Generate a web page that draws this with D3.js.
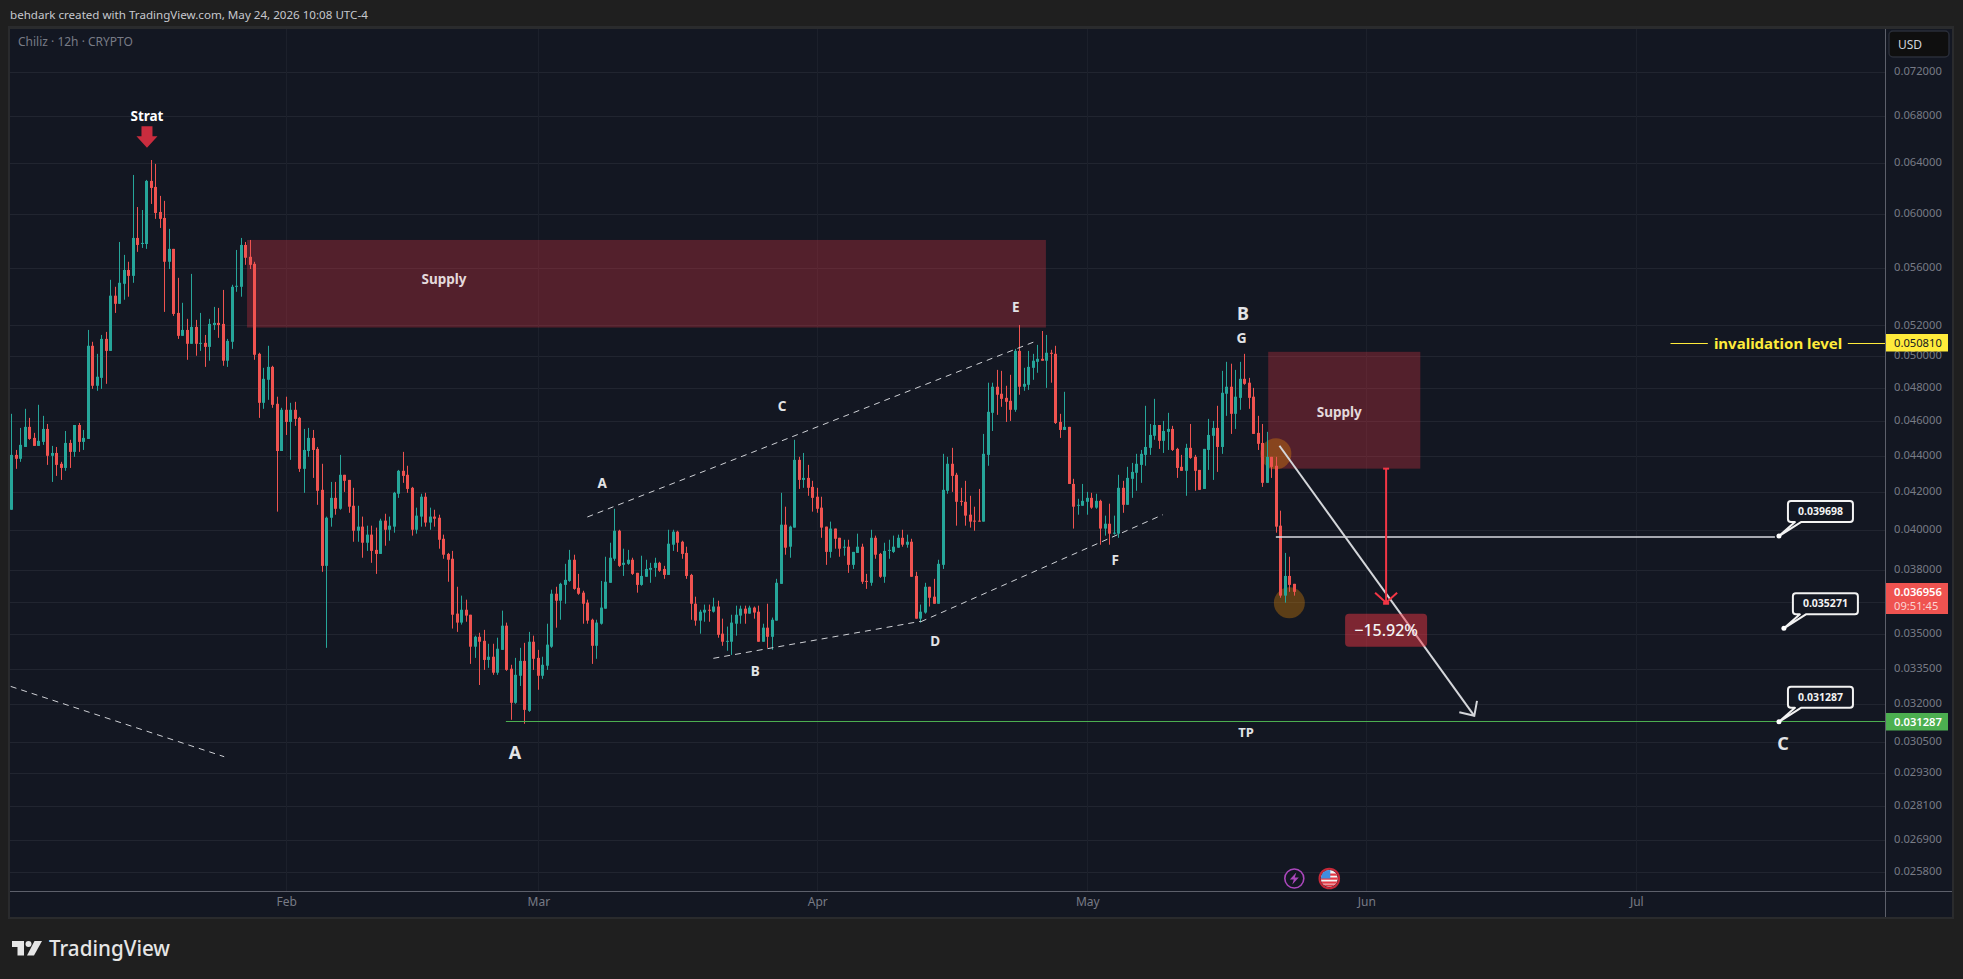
<!DOCTYPE html>
<html><head><meta charset="utf-8">
<script src="https://cdn.jsdelivr.net/npm/d3@7/dist/d3.min.js"></script>
<style>html,body{margin:0;padding:0;background:#1f1f1f;overflow:hidden}svg{display:block}text{font-family:"Noto Sans",sans-serif}</style>
</head><body><svg id="c" width="1963" height="979"></svg>
<script>
// Prices of the 12h candles, in units of 0.00001 USD
const opens=[4106,4405,4383,4450,4566,4502,4456,4479,4554,4400,
4416,4355,4332,4473,4422,4577,4479,4496,5066,4813,
4862,5111,5033,5402,5346,5485,5583,5541,5817,5772,
5772,6258,6210,6014,5968,5642,5736,5284,5131,5170,
5079,5190,5079,5085,5059,5203,5217,5210,4970,5092,
5464,5464,5765,5678,5627,5014,4709,4850,4931,4703,
4427,4667,4595,4667,4619,4327,4427,4502,4439,4212,
3821,4064,4169,4111,4294,4266,4127,3997,4018,3936,
3977,3900,3880,4049,4002,4018,4191,4316,4294,4223,
4002,4070,4175,4039,4070,4064,3956,3880,3856,3594,
3553,3612,3589,3445,3489,3471,3387,3401,3332,3431,
3539,3349,3206,3319,3383,3173,3467,3396,3319,3362,
3445,3687,3654,3729,3748,3851,3715,3692,3645,3566,
3449,3548,3617,3739,3856,3997,3826,3831,3851,3787,
3729,3768,3802,3811,3836,3806,3777,3926,3992,3941,
3885,3777,3640,3562,3599,3612,3603,3627,3503,3467,
3467,3548,3585,3617,3594,3622,3603,3467,3530,3489,
3562,3734,4028,3916,4013,4377,4266,4277,4228,4175,
4117,4018,3890,4008,3961,3911,3916,3826,3885,3916,
3748,3739,3961,3880,3768,3895,3890,3911,3961,3926,
3941,3772,3571,3599,3720,3673,3640,3826,4207,4355,
4294,4153,4148,4080,4049,4049,4044,4405,4649,4807,
4764,4739,4721,4667,5033,4807,4819,4925,4963,4982,
4970,5021,5014,4595,4548,4566,4244,4127,4127,4148,
4169,4117,4153,4008,4033,3982,3982,4223,4132,4272,
4305,4349,4405,4445,4514,4577,4485,4537,4554,4439,
4338,4316,4445,4394,4321,4217,4433,4514,4560,4450,
4764,4807,4643,4739,4856,4832,4746,4531,4473,4250,
4394,4344,4023,3678,3772,3734];
const highs=[4643,4433,4560,4673,4619,4531,4697,4631,4583,4456,
4450,4366,4542,4491,4577,4589,4548,5170,5092,5014,
5137,5157,5513,5464,5787,5692,5642,6306,6052,6029,
6266,6428,6396,6139,6100,5885,5736,5527,5353,5244,
5555,5237,5284,5137,5244,5325,5318,5442,5111,5478,
5728,5817,5787,5802,5642,5021,4925,5066,4938,4746,
4679,4746,4709,4715,4625,4554,4560,4548,4450,4355,
4070,4255,4255,4405,4294,4266,4223,4127,4070,4023,
4023,4013,4059,4085,4070,4201,4321,4422,4344,4228,
4117,4191,4196,4117,4106,4080,3977,3885,3895,3720,
3678,3659,3589,3494,3507,3520,3458,3458,3485,3608,
3553,3366,3396,3440,3462,3511,3494,3431,3401,3548,
3706,3720,3739,3831,3900,3876,3782,3701,3659,3571,
3566,3748,3866,3936,4111,4002,3906,3900,3861,3787,
3871,3851,3836,3861,3841,3821,4002,4002,3997,3946,
3916,3782,3673,3612,3636,3636,3668,3654,3571,3535,
3589,3631,3631,3631,3631,3627,3631,3548,3640,3576,
3758,4196,4122,4023,4491,4394,4416,4349,4261,4223,
4175,4018,4044,4008,3961,3951,3951,3890,3982,3931,
3782,4002,3972,3885,3936,3951,3972,3977,4002,3977,
3956,3792,3636,3739,3720,3758,3851,4411,4394,4445,
4305,4223,4261,4180,4122,4217,4525,4832,4832,4912,
4906,4813,4881,5046,5203,4925,5033,5014,5072,5163,
5137,5040,5066,4643,4776,4566,4272,4164,4244,4201,
4196,4191,4159,4075,4138,4075,4294,4261,4338,4360,
4411,4433,4691,4583,4733,4577,4601,4649,4572,4445,
4405,4468,4583,4405,4321,4439,4613,4601,4691,4906,
4963,4951,4912,4963,5014,4862,4800,4631,4583,4537,
4394,4394,4101,3885,3866,3734];
const lows=[4106,4327,4366,4450,4491,4456,4456,4462,4349,4255,
4288,4266,4316,4332,4394,4422,4433,4496,4794,4782,
4794,4825,5033,5284,5346,5374,5395,5492,5714,5743,
5736,6076,5961,5892,5291,5590,5264,5111,5131,4976,
5079,5002,5033,4931,4970,5170,5118,4938,4931,5046,
5429,5395,5620,5590,4976,4619,4673,4727,4679,4096,
4427,4519,4377,4572,4310,4196,4394,4277,4132,3792,
3440,4018,4080,4106,4201,4090,3941,3941,3861,3895,
3836,3782,3880,3921,3946,3987,4169,4250,4196,3972,
3982,4018,4018,4002,4018,3906,3856,3744,3526,3511,
3544,3557,3370,3396,3280,3344,3353,3323,3323,3431,
3340,3137,3202,3276,3121,3169,3344,3260,3306,3344,
3440,3530,3566,3640,3744,3706,3682,3548,3548,3370,
3392,3544,3617,3739,3846,3816,3772,3826,3777,3692,
3725,3768,3739,3768,3792,3758,3777,3895,3890,3856,
3758,3566,3539,3503,3557,3557,3599,3485,3449,3427,
3409,3494,3548,3548,3594,3571,3467,3467,3440,3431,
3562,3734,3876,3861,4013,4217,4223,4180,4096,4090,
3961,3826,3861,3906,3866,3871,3787,3806,3885,3734,
3710,3725,3856,3763,3739,3856,3885,3911,3916,3911,
3768,3571,3553,3594,3627,3640,3640,3806,4191,4201,
4023,4127,4023,4013,3997,4044,4044,4344,4542,4637,
4685,4595,4601,4655,4758,4782,4788,4850,4894,4970,
4800,4832,4583,4502,4548,4244,4008,4080,4127,4080,
4111,4111,3926,3972,3926,3977,3961,4090,4132,4169,
4207,4250,4344,4405,4491,4439,4416,4433,4427,4277,
4316,4180,4383,4207,4212,4217,4321,4266,4310,4411,
4631,4525,4554,4667,4819,4673,4525,4433,4228,4250,
4277,3987,3668,3645,3696,3678];
const closes=[4405,4383,4462,4566,4496,4456,4485,4554,4400,4416,
4349,4332,4473,4422,4577,4479,4502,5066,4813,4869,
5111,5033,5402,5346,5492,5583,5541,5817,5765,5780,
6258,6202,6006,5961,5642,5736,5277,5131,5170,5079,
5190,5079,5085,5059,5210,5217,5203,4970,5098,5464,
5471,5765,5671,5620,5008,4709,4856,4931,4697,4427,
4667,4595,4667,4613,4327,4433,4502,4433,4207,3821,
4064,4169,4111,4294,4261,4122,3997,4018,3936,3977,
3895,3880,4049,4002,4023,4196,4316,4288,4217,4002,
4075,4175,4039,4070,4059,3951,3876,3851,3589,3553,
3612,3585,3445,3489,3467,3387,3401,3332,3436,3539,
3344,3206,3323,3383,3177,3467,3392,3319,3366,3454,
3687,3654,3734,3753,3851,3710,3687,3640,3562,3449,
3553,3622,3744,3861,3997,3821,3836,3851,3782,3729,
3772,3806,3811,3836,3797,3777,3931,3992,3936,3880,
3772,3640,3562,3603,3612,3608,3627,3498,3467,3471,
3553,3589,3617,3594,3622,3599,3467,3530,3489,3566,
3739,4028,3911,4018,4377,4266,4277,4223,4169,4111,
4013,3890,4008,3956,3906,3916,3826,3890,3916,3744,
3744,3961,3876,3768,3895,3900,3916,3961,3926,3941,
3768,3571,3603,3720,3668,3640,3831,4212,4355,4288,
4148,4148,4075,4044,4044,4044,4411,4655,4807,4758,
4733,4715,4667,5033,4807,4825,4931,4970,4982,4970,
5021,5014,4589,4548,4566,4244,4122,4132,4153,4169,
4117,4153,4008,4033,3982,3987,4223,4132,4277,4310,
4355,4411,4450,4519,4577,4485,4542,4554,4433,4332,
4316,4445,4388,4316,4212,4439,4519,4560,4450,4770,
4807,4643,4746,4856,4825,4739,4525,4468,4250,4394,
4338,4018,3678,3772,3729,3696];

const gridPrices=[0.072,0.068,0.064,0.06,0.056,0.052,0.05,0.048,0.046,0.044,0.042,0.04,0.038,0.0365,0.035,0.0335,0.032,0.0305,0.0293,0.0281,0.0269,0.0258];
const hiddenTick=0.0365; // its label sits behind the last-price tag
const invalidationPrice=0.05081, lastPrice=0.036956, targetPrice=0.031287, midPrice=0.039698, notePrice=0.035271;
const countdown="09:51:45", changeLabel="\u221215.92%";
// Drawings: position = candle number b, price p (0.00001 USD)
const supplyZones=[{b0:52.27,b1:229.8,hi:5802,lo:5186,labelB:96.04,labelP:5520},{b0:279.2,b1:313,hi:5027,lo:4328,labelB:295,labelP:4655}];
const dashedLines=[[-0.24,3274,47.2,2992],[127.9,4068,227.4,5094],[155.9,3394,202,3559],[202,3557,255.8,4080]];
const circles=[{b:280.9,p:4411},{b:283.9,p:3644}];
const arrowLine=[281.7,4457,325,3153];
const measure={b:305.4,from:4328,to:3640};
const letters=[["A",131.2,4250,13.5],["C",171.2,4691,13.5],["B",165.2,3340,13.5],["D",205.2,3471,13.5],["E",223.1,5320,13.5],["F",245.2,3847,13.5],["G",273.3,5116,14],["B",273.6,5277,18],["A",111.8,3008,18],["C",393.6,3042,18],["TP",274.3,3087,13]];
const notes=[{b:392.7,price:midPrice},{b:393.8,price:notePrice},{b:392.7,price:targetPrice}];
const stratMark={b:30.04,tip:6530,label:"Strat",labelP:6800};

const fmt6=d3.format(".6f");
const svg=d3.select("#c");
const L=10,T=29,R=1886,B=891,BOTTOM=917;
const BG="#131722",UP="#26a69a",DOWN="#ef5350",GRID="#212530",AXT="#787b86";
const y=d3.scaleLog().domain([0.0258,0.072]).range([872.3,71.5]);
const py=u=>y(u*1e-5);
const feb1=Date.UTC(2026,1,1),jul1=Date.UTC(2026,6,1),H12=12*3600e3;
const x=d3.scaleUtc().domain([feb1,jul1]).range([286.3,1636.3]);
const xb=b=>x(new Date(feb1+(b-61)*H12));
const months=d3.utcMonth.range(new Date(feb1),new Date(jul1+1));

svg.append("rect").attr("x",8).attr("y",26).attr("width",1946).attr("height",893).attr("fill","#2a2b2d");
svg.append("rect").attr("x",L).attr("y",T).attr("width",1952-L).attr("height",BOTTOM-T).attr("fill",BG);
svg.append("text").attr("x",10).attr("y",19).attr("font-size",11.6).attr("fill","#c6c8ce").text("behdark created with TradingView.com, May 24, 2026 10:08 UTC-4");

const plot=svg.append("g");
plot.selectAll("line.h").data(gridPrices).join("line").attr("x1",L).attr("x2",R).attr("y1",d=>Math.round(y(d))+.5).attr("y2",d=>Math.round(y(d))+.5).attr("stroke",GRID);
plot.selectAll("line.v").data(months).join("line").attr("x1",d=>Math.round(x(d))+.5).attr("x2",d=>Math.round(x(d))+.5).attr("y1",T).attr("y2",B).attr("stroke","#1c202b");
svg.append("text").attr("x",18).attr("y",46).attr("font-size",12).attr("fill",AXT).text("Chiliz \u00b7 12h \u00b7 CRYPTO");

// supply zones
plot.selectAll("rect.z").data(supplyZones).join("rect").attr("x",d=>xb(d.b0)).attr("width",d=>xb(d.b1)-xb(d.b0)).attr("y",d=>py(d.hi)).attr("height",d=>py(d.lo)-py(d.hi)).attr("fill","#f23645").attr("fill-opacity",.29);
// circles
plot.selectAll("circle.m").data(circles).join("circle").attr("cx",d=>xb(d.b)).attr("cy",d=>py(d.p)).attr("r",15.5).attr("fill","#ff9800").attr("fill-opacity",.31);

// candles
const bars=d3.range(opens.length);
const cg=svg.append("g");
cg.selectAll("rect.w").data(bars).join("rect").attr("x",i=>Math.round(xb(i)-.5)).attr("width",1)
 .attr("y",i=>py(highs[i])).attr("height",i=>Math.max(1,py(lows[i])-py(highs[i])))
 .attr("fill",i=>closes[i]>=opens[i]?UP:DOWN);
cg.selectAll("rect.b").data(bars).join("rect").attr("x",i=>Math.round(xb(i)-.5)-1).attr("width",3)
 .attr("y",i=>py(Math.max(opens[i],closes[i]))).attr("height",i=>Math.max(1,Math.abs(py(opens[i])-py(closes[i]))))
 .attr("fill",i=>closes[i]>=opens[i]?UP:DOWN);

// dashed lines
svg.selectAll("line.d").data(dashedLines).join("line").attr("x1",d=>xb(d[0])).attr("y1",d=>py(d[1])).attr("x2",d=>xb(d[2])).attr("y2",d=>py(d[3])).attr("stroke","#cfd1d6").attr("stroke-width",1).attr("stroke-dasharray","6 5");

// horizontal levels
const yT=Math.round(y(targetPrice))-.5;
svg.append("line").attr("x1",xb(109.8)).attr("x2",R).attr("y1",yT).attr("y2",yT).attr("stroke","#4caf50");
const yM=Math.round(y(midPrice))+1;
svg.append("line").attr("x1",xb(280.9)).attr("x2",xb(391.8)).attr("y1",yM).attr("y2",yM).attr("stroke","#d8dae0").attr("stroke-width",1.4);
const yI=Math.round(y(invalidationPrice))+.5;
svg.append("line").attr("x1",xb(368.6)).attr("x2",xb(376.9)).attr("y1",yI).attr("y2",yI).attr("stroke","#ffeb3b");
svg.append("line").attr("x1",xb(408)).attr("x2",R).attr("y1",yI).attr("y2",yI).attr("stroke","#ffeb3b");
svg.append("text").attr("x",xb(392.5)).attr("y",yI+5).attr("text-anchor","middle").attr("font-size",15).attr("font-weight",700).attr("fill","#ffeb3b").text("invalidation level");

// white projection arrow
const [a0,a1,a2,a3]=[xb(arrowLine[0]),py(arrowLine[1]),xb(arrowLine[2]),py(arrowLine[3])];
svg.append("line").attr("x1",a0).attr("y1",a1).attr("x2",a2).attr("y2",a3).attr("stroke","#d4d6da").attr("stroke-width",2);
svg.append("path").attr("d",`M${a2-15},${a3-3.5}L${a2},${a3}L${a2+2.7},${a3-15}`).attr("fill","none").attr("stroke","#d4d6da").attr("stroke-width",2);

// price-range measure
const mx=xb(measure.b),m0=py(measure.from),m1=py(measure.to);
const mc="#f23645";
svg.append("line").attr("x1",mx).attr("x2",mx).attr("y1",m0).attr("y2",m1).attr("stroke",mc).attr("stroke-width",2);
svg.append("line").attr("x1",mx-3).attr("x2",mx+3).attr("y1",m0).attr("y2",m0).attr("stroke",mc).attr("stroke-width",2);
svg.append("line").attr("x1",mx-3).attr("x2",mx+3).attr("y1",m1-.5).attr("y2",m1-.5).attr("stroke",mc).attr("stroke-width",3);
svg.append("path").attr("d",`M${mx-11},${m1-11}L${mx},${m1-1}L${mx+11},${m1-11}`).attr("fill","none").attr("stroke",mc).attr("stroke-width",2);
svg.append("rect").attr("x",mx-41).attr("y",m1+10).attr("width",82).attr("height",33).attr("rx",4).attr("fill",mc).attr("fill-opacity",.48);
svg.append("text").attr("x",mx).attr("y",m1+32).attr("text-anchor","middle").attr("font-size",16).attr("font-weight",500).attr("fill","#f4f4f4").text(changeLabel);

// text labels
svg.selectAll("text.s").data(supplyZones).join("text").attr("x",d=>xb(d.labelB)).attr("y",d=>py(d.labelP)).attr("dy",".35em").attr("text-anchor","middle").attr("font-size",13.5).attr("font-weight",700).attr("fill","#e4d9db").text("Supply");
svg.selectAll("text.l").data(letters).join("text").attr("x",d=>xb(d[1])).attr("y",d=>py(d[2])).attr("dy",".35em").attr("text-anchor","middle").attr("font-size",d=>d[3]).attr("font-weight",700).attr("fill","#e2e3e6").text(d=>d[0]);

// strat marker
const sx=xb(stratMark.b),sy=py(stratMark.tip);
svg.append("text").attr("x",sx).attr("y",py(stratMark.labelP)).attr("dy",".35em").attr("text-anchor","middle").attr("font-size",13.5).attr("font-weight",700).attr("fill","#fff").text(stratMark.label);
svg.append("path").attr("d",`M${sx},${sy}L${sx-10.5},${sy-11.5}H${sx-5.5}V${sy-21.5}H${sx+5.5}V${sy-11.5}H${sx+10.5}Z`).attr("fill","#c92c3e");

// callout notes
const note=svg.selectAll("g.n").data(notes).join("g").attr("transform",d=>`translate(${xb(d.b)},${y(d.price)})`);
note.append("path").attr("d","M12,-35H71Q74,-35 74,-32V-17Q74,-14 71,-14H22L0,0L16,-14H12Q9,-14 9,-17V-32Q9,-35 12,-35Z").attr("fill",BG).attr("stroke","#f2f2f2").attr("stroke-width",2).attr("stroke-linejoin","round");
note.append("circle").attr("r",2.5).attr("fill","#fff");
note.append("text").attr("x",41.5).attr("y",-21).attr("text-anchor","middle").attr("font-size",10.5).attr("font-weight",700).attr("fill","#f2f2f2").text(d=>fmt6(d.price));

// axes
const axR=svg.append("g").attr("transform",`translate(${R},-1)`).call(d3.axisRight(y).tickValues(gridPrices.filter(p=>p!==hiddenTick)).tickFormat(fmt6).tickSize(0).tickPadding(8));
axR.select(".domain").remove();
axR.selectAll("text").attr("font-size",11.2).attr("fill",AXT).style("font-family",'"Noto Sans",sans-serif');
const axB=svg.append("g").attr("transform",`translate(0,${B})`).call(d3.axisBottom(x).tickValues(months).tickFormat(d3.utcFormat("%b")).tickSize(0).tickPadding(6));
axB.select(".domain").remove();
axB.selectAll("text").attr("font-size",12).attr("fill",AXT).style("font-family",'"Noto Sans",sans-serif');
svg.append("line").attr("x1",L).attr("x2",1952).attr("y1",B+.5).attr("y2",B+.5).attr("stroke","#5d606b");
svg.append("line").attr("x1",R-.5).attr("x2",R-.5).attr("y1",T).attr("y2",BOTTOM).attr("stroke","#5d606b");

// price tags
function tag(price,fill,txt,w){svg.append("rect").attr("x",R).attr("y",Math.round(y(price))-9).attr("width",62).attr("height",17.5).attr("fill",fill);
 svg.append("text").attr("x",R+8).attr("y",Math.round(y(price))+4).attr("font-size",11.2).attr("font-weight",w).attr("fill",txt).text(fmt6(price));}
tag(invalidationPrice,"#ffeb3b","#131722",400);
tag(targetPrice,"#4caf50","#fff",600);
const yL=Math.round(y(lastPrice));
svg.append("rect").attr("x",R).attr("y",yL-9).attr("width",62).attr("height",31).attr("fill",DOWN);
svg.append("text").attr("x",R+8).attr("y",yL+4).attr("font-size",11.2).attr("font-weight",600).attr("fill","#fff").text(fmt6(lastPrice));
svg.append("text").attr("x",R+8).attr("y",yL+18).attr("font-size",11.2).attr("fill","#fbd5d4").text(countdown);

// USD button
svg.append("rect").attr("x",1889).attr("y",31).attr("width",60).attr("height",26).attr("rx",4).attr("fill","#0f0f0f").attr("stroke","#2a2e39").attr("stroke-width",1.4);
svg.append("text").attr("x",1898).attr("y",49).attr("font-size",12).attr("fill","#d1d4dc").text("USD");

// event icons
const ev=svg.append("g").attr("transform","translate(1294.3,878.5)");
ev.append("circle").attr("r",9.5).attr("fill",BG).attr("stroke","#ab47bc").attr("stroke-width",1.6);
ev.append("path").attr("d","M2,-6L-4.5,1H-0.5L-2,6L4.5,-1H0.5Z").attr("fill","#ab47bc");
const fl=svg.append("g").attr("transform","translate(1329.3,878.5)");
svg.append("clipPath").attr("id","fc").append("circle").attr("r",8.5);
const fg=fl.append("g").attr("clip-path","url(#fc)");
fg.append("rect").attr("x",-9).attr("y",-9).attr("width",18).attr("height",18).attr("fill","#f5f5f5");
[-4,0,4,7].forEach(s=>fg.append("rect").attr("x",-9).attr("y",s-1).attr("width",18).attr("height",2.2).attr("fill","#e53945"));
fg.append("rect").attr("x",-9).attr("y",-9).attr("width",10).attr("height",9).attr("fill","#3f8de0");
fl.append("circle").attr("r",9.8).attr("fill","none").attr("stroke","#c62838").attr("stroke-width",2);

// TradingView logo
const lg=svg.append("g").attr("fill","#e6e6e6");
lg.append("path").attr("d","M12,941H24V955.5H17.5V947H12Z");
lg.append("circle").attr("cx",28.5).attr("cy",944).attr("r",3);
lg.append("path").attr("d","M34.5,941H42L34,955.5H27Z");
lg.append("text").attr("x",49).attr("y",956).attr("font-size",22).attr("font-weight",500).attr("textLength",121).attr("lengthAdjust","spacingAndGlyphs").text("TradingView");
</script></body></html>
